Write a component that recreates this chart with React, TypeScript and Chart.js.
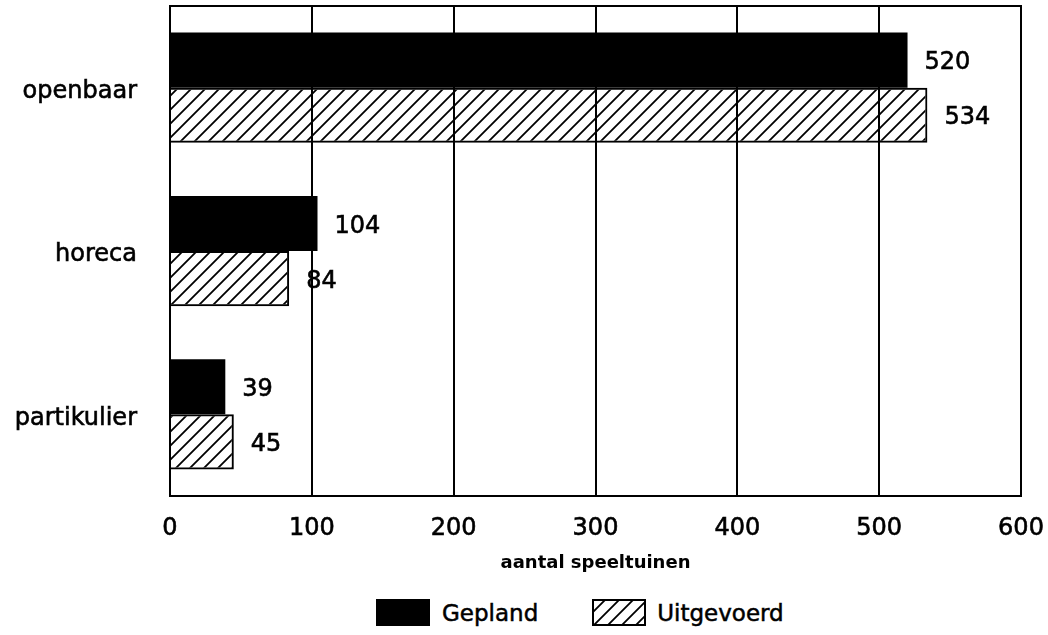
import React, { useEffect, useRef } from "react";
import { Chart, registerables } from "chart.js";

Chart.register(...registerables);

const categories = ["openbaar", "horeca", "partikulier"];
const gepland = [520, 104, 39];
const uitgevoerd = [534, 84, 45];
const seriesNames = ["Gepland", "Uitgevoerd"];
const xTicks = [0, 100, 200, 300, 400, 500, 600];
const axisTitle = "aantal speeltuinen";

const FONT = "'DejaVu Sans', sans-serif";

function makeHatch(ctx: CanvasRenderingContext2D): CanvasPattern | string {
  const s = 14;
  const c = document.createElement("canvas");
  c.width = s;
  c.height = s;
  const g = c.getContext("2d");
  if (!g) return "#fff";
  g.strokeStyle = "#000";
  g.lineWidth = 1.8;
  g.beginPath();
  g.moveTo(0, s);
  g.lineTo(s, 0);
  g.moveTo(-s / 2, s / 2);
  g.lineTo(s / 2, -s / 2);
  g.moveTo(s / 2, s * 1.5);
  g.lineTo(s * 1.5, s / 2);
  g.stroke();
  return ctx.createPattern(c, "repeat") || "#fff";
}

const framePlugin = {
  id: "frameTop",
  afterDraw(chart: any) {
    const { ctx, chartArea } = chart;
    ctx.save();
    ctx.strokeStyle = "#000";
    ctx.lineWidth = 2;
    ctx.beginPath();
    ctx.moveTo(chartArea.left - 1, chartArea.top);
    ctx.lineTo(chartArea.right + 1, chartArea.top);
    ctx.stroke();
    ctx.restore();
  },
};

const valueLabelPlugin = {
  id: "valueLabels",
  afterDatasetsDraw(chart: any) {
    const { ctx } = chart;
    ctx.save();
    ctx.fillStyle = "#000";
    ctx.strokeStyle = "#000";
    ctx.lineWidth = 0.6;
    ctx.font = `24px ${FONT}`;
    ctx.textAlign = "left";
    ctx.textBaseline = "middle";
    chart.data.datasets.forEach((ds: any, di: number) => {
      const meta = chart.getDatasetMeta(di);
      meta.data.forEach((el: any, i: number) => {
        const t = String(ds.data[i]);
        ctx.fillText(t, el.x + 17, el.y + 3);
        ctx.strokeText(t, el.x + 17, el.y + 3);
      });
    });
    ctx.restore();
  },
};

function Swatch({ hatched }: { hatched: boolean }) {
  const ref = useRef<HTMLCanvasElement | null>(null);
  useEffect(() => {
    const c = ref.current;
    if (!c) return;
    const ctx = c.getContext("2d");
    if (!ctx) return;
    ctx.clearRect(0, 0, c.width, c.height);
    if (hatched) {
      ctx.fillStyle = makeHatch(ctx) as any;
      ctx.fillRect(0, 0, c.width, c.height);
      ctx.strokeStyle = "#000";
      ctx.lineWidth = 2;
      ctx.strokeRect(1, 1, c.width - 2, c.height - 2);
    } else {
      ctx.fillStyle = "#000";
      ctx.fillRect(0, 0, c.width, c.height);
    }
  }, [hatched]);
  return <canvas ref={ref} width={54} height={27} style={{ display: "block" }} />;
}

export default function App() {
  const canvasRef = useRef<HTMLCanvasElement | null>(null);

  useEffect(() => {
    const canvas = canvasRef.current;
    if (!canvas) return;
    const ctx = canvas.getContext("2d");
    if (!ctx) return;
    const hatch = makeHatch(ctx);

    const chart = new Chart(canvas, {
      type: "bar",
      data: {
        labels: categories,
        datasets: [
          {
            label: seriesNames[0],
            data: gepland,
            backgroundColor: "#000",
            borderWidth: 0,
            categoryPercentage: 0.675,
            barPercentage: 1,
          },
          {
            label: seriesNames[1],
            data: uitgevoerd,
            backgroundColor: hatch as any,
            borderColor: "#000",
            borderWidth: 2,
            categoryPercentage: 0.675,
            barPercentage: 1,
          },
        ],
      },
      options: {
        indexAxis: "y",
        animation: false,
        responsive: true,
        maintainAspectRatio: false,
        layout: { padding: { top: 6, right: 27, bottom: 0, left: 0 } },
        plugins: {
          legend: { display: false },
          tooltip: { enabled: false },
        },
        scales: {
          x: {
            type: "linear",
            min: 0,
            max: 600,
            afterBuildTicks: (scale: any) => {
              scale.ticks = xTicks.map((v) => ({ value: v }));
            },
            afterFit: (scale: any) => {
              scale.height = 89;
              scale.paddingLeft = 0;
              scale.paddingRight = 0;
              scale.paddingTop = 0;
              scale.paddingBottom = 0;
            },
            grid: {
              color: "#000",
              lineWidth: 2,
              drawTicks: false,
            },
            border: { display: true, color: "#000", width: 2 },
            ticks: {
              color: "#000",
              font: { family: FONT, size: 24 },
              padding: 18,
              maxRotation: 0,
              textStrokeColor: "#000",
              textStrokeWidth: 0.6,
            },
            title: {
              display: true,
              text: axisTitle,
              color: "#000",
              font: { family: FONT, size: 18, weight: "bold" },
              padding: { top: 0, bottom: 11 },
            },
          },
          y: {
            type: "category",
            afterFit: (scale: any) => {
              scale.width = 170;
              scale.paddingLeft = 0;
              scale.paddingRight = 0;
              scale.paddingTop = 0;
              scale.paddingBottom = 0;
            },
            grid: { display: false, drawTicks: false },
            border: { display: true, color: "#000", width: 2 },
            ticks: {
              color: "#000",
              font: { family: FONT, size: 24 },
              padding: 33,
              labelOffset: 4,
              textStrokeColor: "#000",
              textStrokeWidth: 0.6,
            },
          },
        },
      },
      plugins: [framePlugin, valueLabelPlugin],
    });

    return () => chart.destroy();
  }, []);

  return (
    <div
      style={{
        position: "absolute",
        left: 0,
        top: 0,
        width: 1048,
        height: 635,
        background: "#fff",
        overflow: "hidden",
      }}
    >
      <div style={{ position: "relative", width: 1048, height: 585 }}>
        <canvas ref={canvasRef} />
      </div>
      <div
        style={{
          display: "flex",
          alignItems: "center",
          height: 55,
          paddingLeft: 376,
          fontFamily: FONT,
          fontSize: 23,
          color: "#000",
          WebkitTextStroke: "0.5px #000",
        }}
      >
        <Swatch hatched={false} />
        <span style={{ marginLeft: 12, marginRight: 54 }}>{seriesNames[0]}</span>
        <Swatch hatched={true} />
        <span style={{ marginLeft: 11 }}>{seriesNames[1]}</span>
      </div>
    </div>
  );
}
